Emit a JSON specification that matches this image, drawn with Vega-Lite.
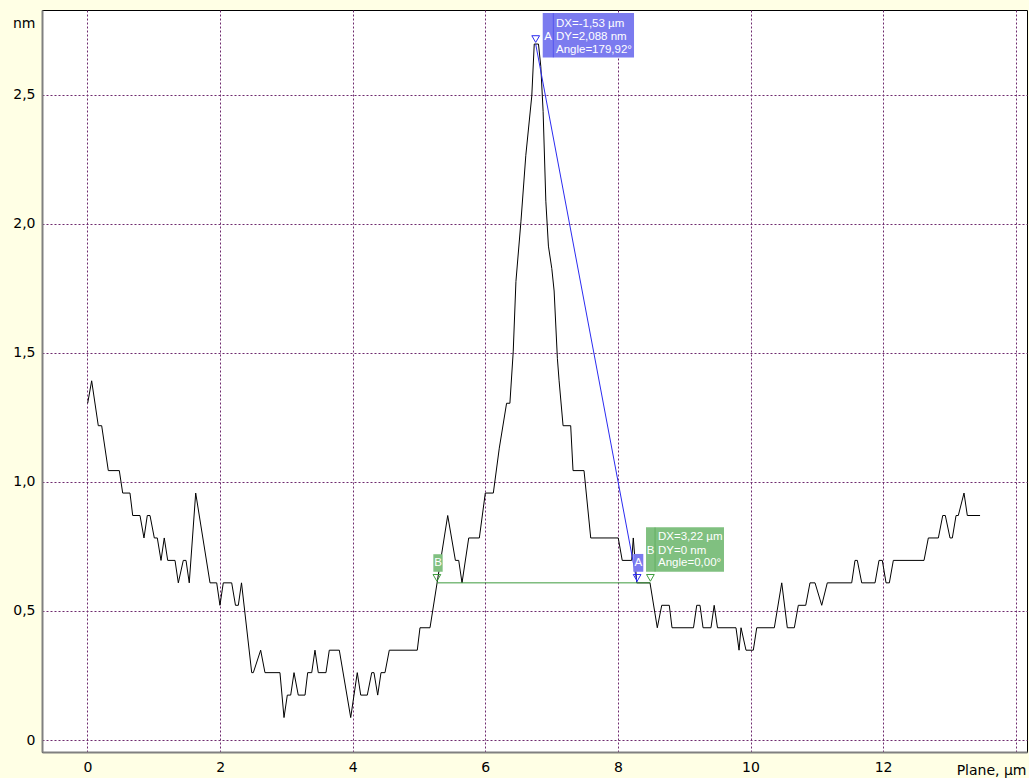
{
  "$schema": "https://vega.github.io/schema/vega-lite/v6.json",
  "width": 985,
  "height": 742,
  "autosize": {"type": "none"},
  "padding": {"left": 42, "top": 10, "right": 2, "bottom": 26},
  "background": "#FFFFE5",
  "config": {
    "view": {"fill": "#ffffff", "stroke": "#000000", "strokeWidth": 1},
    "font": "DejaVu Sans",
    "axis": {
      "grid": true,
      "ticks": false,
      "gridColor": "#6e2a6e",
      "gridDash": [2, 2],
      "gridWidth": 1,
      "gridOpacity": 1,
      "domainColor": "#808080",
      "domainWidth": 2,
      "labelFont": "DejaVu Sans",
      "labelFontSize": 14,
      "labelColor": "#000000",
      "titleFont": "DejaVu Sans",
      "titleFontSize": 14,
      "titleFontWeight": "normal",
      "titleColor": "#000000"
    }
  },
  "datasets": {
    "profile": [
      {"x":0.003,"y":1.305},{"x":0.063,"y":1.392},{"x":0.163,"y":1.218},{"x":0.214,"y":1.218},
      {"x":0.314,"y":1.044},{"x":0.480,"y":1.044},{"x":0.531,"y":0.957},{"x":0.641,"y":0.957},
      {"x":0.682,"y":0.870},{"x":0.792,"y":0.870},{"x":0.852,"y":0.783},{"x":0.902,"y":0.870},
      {"x":0.943,"y":0.870},{"x":1.008,"y":0.783},{"x":1.053,"y":0.783},{"x":1.109,"y":0.696},
      {"x":1.158,"y":0.783},{"x":1.210,"y":0.696},{"x":1.320,"y":0.696},{"x":1.370,"y":0.609},
      {"x":1.445,"y":0.696},{"x":1.486,"y":0.696},{"x":1.535,"y":0.609},{"x":1.632,"y":0.957},
      {"x":1.848,"y":0.609},{"x":1.949,"y":0.609},{"x":1.998,"y":0.522},{"x":2.048,"y":0.609},
      {"x":2.175,"y":0.609},{"x":2.232,"y":0.522},{"x":2.275,"y":0.522},{"x":2.323,"y":0.609},
      {"x":2.477,"y":0.261},{"x":2.501,"y":0.261},{"x":2.612,"y":0.348},{"x":2.677,"y":0.261},
      {"x":2.903,"y":0.261},{"x":2.964,"y":0.087},{"x":3.014,"y":0.174},{"x":3.065,"y":0.174},
      {"x":3.115,"y":0.261},{"x":3.179,"y":0.174},{"x":3.281,"y":0.174},{"x":3.321,"y":0.261},
      {"x":3.382,"y":0.261},{"x":3.431,"y":0.348},{"x":3.481,"y":0.261},{"x":3.597,"y":0.261},
      {"x":3.647,"y":0.348},{"x":3.798,"y":0.348},{"x":3.970,"y":0.087},{"x":4.069,"y":0.261},
      {"x":4.121,"y":0.174},{"x":4.220,"y":0.174},{"x":4.287,"y":0.261},{"x":4.321,"y":0.261},
      {"x":4.377,"y":0.174},{"x":4.427,"y":0.261},{"x":4.487,"y":0.261},{"x":4.552,"y":0.348},
      {"x":4.974,"y":0.348},{"x":5.015,"y":0.435},{"x":5.166,"y":0.435},{"x":5.433,"y":0.870},
      {"x":5.549,"y":0.696},{"x":5.599,"y":0.696},{"x":5.649,"y":0.609},{"x":5.750,"y":0.783},
      {"x":5.910,"y":0.783},{"x":6.000,"y":0.957},{"x":6.121,"y":0.957},{"x":6.211,"y":1.131},
      {"x":6.321,"y":1.305},{"x":6.371,"y":1.305},{"x":6.421,"y":1.504},{"x":6.462,"y":1.777},
      {"x":6.537,"y":2.008},{"x":6.611,"y":2.266},{"x":6.701,"y":2.496},{"x":6.738,"y":2.697},
      {"x":6.802,"y":2.697},{"x":6.837,"y":2.610},{"x":6.872,"y":2.436},{"x":6.913,"y":2.088},
      {"x":6.952,"y":1.914},{"x":7.003,"y":1.827},{"x":7.038,"y":1.740},{"x":7.087,"y":1.479},
      {"x":7.113,"y":1.392},{"x":7.173,"y":1.218},{"x":7.288,"y":1.218},{"x":7.323,"y":1.044},
      {"x":7.489,"y":1.044},{"x":7.590,"y":0.783},{"x":8.005,"y":0.783},{"x":8.065,"y":0.696},
      {"x":8.208,"y":0.696},{"x":8.232,"y":0.783},{"x":8.284,"y":0.609},{"x":8.484,"y":0.609},
      {"x":8.594,"y":0.435},{"x":8.661,"y":0.522},{"x":8.775,"y":0.522},{"x":8.816,"y":0.435},
      {"x":9.140,"y":0.435},{"x":9.189,"y":0.522},{"x":9.238,"y":0.522},{"x":9.284,"y":0.435},
      {"x":9.404,"y":0.435},{"x":9.452,"y":0.522},{"x":9.502,"y":0.435},{"x":9.781,"y":0.435},
      {"x":9.827,"y":0.348},{"x":9.857,"y":0.435},{"x":9.932,"y":0.348},{"x":10.042,"y":0.348},
      {"x":10.094,"y":0.435},{"x":10.359,"y":0.435},{"x":10.471,"y":0.609},{"x":10.555,"y":0.435},
      {"x":10.661,"y":0.435},{"x":10.721,"y":0.522},{"x":10.833,"y":0.522},{"x":10.897,"y":0.609},
      {"x":10.973,"y":0.609},{"x":11.074,"y":0.522},{"x":11.158,"y":0.609},{"x":11.526,"y":0.609},
      {"x":11.576,"y":0.696},{"x":11.611,"y":0.696},{"x":11.677,"y":0.609},{"x":11.878,"y":0.609},
      {"x":11.938,"y":0.696},{"x":11.988,"y":0.696},{"x":12.044,"y":0.609},{"x":12.094,"y":0.609},
      {"x":12.154,"y":0.696},{"x":12.617,"y":0.696},{"x":12.682,"y":0.783},{"x":12.833,"y":0.783},
      {"x":12.899,"y":0.870},{"x":12.938,"y":0.870},{"x":13.009,"y":0.783},{"x":13.044,"y":0.783},
      {"x":13.100,"y":0.870},{"x":13.134,"y":0.870},{"x":13.220,"y":0.957},{"x":13.270,"y":0.870},
      {"x":13.462,"y":0.870}
    ],
    "meas": [
      {"g":"A","x":6.76,"y":2.697},{"g":"A","x":8.29,"y":0.609},
      {"g":"B","x":5.27,"y":0.609},{"g":"B","x":8.49,"y":0.609}
    ],
    "boxes": [
      {"g":"A","x1":6.866,"x2":8.243,"y1":2.645,"y2":2.817,"xd":7.026,"lx":6.946,"ly":2.726},
      {"g":"B","x1":8.424,"x2":9.600,"y1":0.652,"y2":0.824,"xd":8.560,"lx":8.492,"ly":0.734}
    ],
    "tags": [
      {"g":"A","x1":8.232,"x2":8.383,"y1":0.652,"y2":0.721,"lx":8.308,"ly":0.686},
      {"g":"B","x1":5.216,"x2":5.357,"y1":0.652,"y2":0.720,"lx":5.287,"ly":0.686}
    ],
    "texts": [
      {"x":7.066,"y":2.775,"t":"DX=-1,53 µm"},
      {"x":7.066,"y":2.726,"t":"DY=2,088 nm"},
      {"x":7.066,"y":2.674,"t":"Angle=179,92°"},
      {"x":8.605,"y":0.786,"t":"DX=3,22 µm"},
      {"x":8.605,"y":0.734,"t":"DY=0 nm"},
      {"x":8.605,"y":0.685,"t":"Angle=0,00°"}
    ]
  },
  "layer": [
    {
      "data": {"name": "profile"},
      "mark": {"type": "line", "stroke": "#000000", "strokeWidth": 1},
      "encoding": {
        "x": {
          "field": "x", "type": "quantitative",
          "scale": {"domain": [-0.686, 14.17], "nice": false, "zero": false},
          "axis": {
            "values": [0, 2, 4, 6, 8, 10, 12, 14],
            "format": "d",
            "labelExpr": "datum.value == 14 ? '' : datum.label",
            "labelPadding": 8,
            "title": "Plane, µm",
            "titleX": 984,
            "titleY": 22,
            "titleAlign": "right",
            "titleBaseline": "alphabetic"
          }
        },
        "y": {
          "field": "y", "type": "quantitative",
          "scale": {"domain": [-0.0465, 2.829], "nice": false, "zero": false},
          "axis": {
            "values": [0, 0.5, 1, 1.5, 2, 2.5],
            "labelExpr": "datum.value == 0 ? '0' : replace(format(datum.value, '.1f'), '.', ',')",
            "labelPadding": 7,
            "title": "nm",
            "titleAngle": 0,
            "titleX": -7,
            "titleY": 17,
            "titleAlign": "right",
            "titleBaseline": "alphabetic"
          }
        }
      }
    },
    {
      "data": {"name": "meas"},
      "mark": {"type": "line", "strokeWidth": 1},
      "encoding": {
        "x": {"field": "x", "type": "quantitative"},
        "y": {"field": "y", "type": "quantitative"},
        "detail": {"field": "g"},
        "stroke": {"field": "g", "type": "nominal", "scale": {"domain": ["A", "B"], "range": ["#2b2bf0", "#3d9b3d"]}, "legend": null}
      }
    },
    {
      "data": {"name": "meas"},
      "mark": {"type": "point", "shape": "triangle-down", "filled": false, "size": 60, "yOffset": -5, "strokeWidth": 1, "opacity": 1},
      "encoding": {
        "x": {"field": "x", "type": "quantitative"},
        "y": {"field": "y", "type": "quantitative"},
        "stroke": {"field": "g", "type": "nominal", "legend": null}
      }
    },
    {
      "data": {"name": "boxes"},
      "mark": {"type": "rect"},
      "encoding": {
        "x": {"field": "x1", "type": "quantitative"},
        "x2": {"field": "x2"},
        "y": {"field": "y1", "type": "quantitative"},
        "y2": {"field": "y2"},
        "fill": {"field": "g", "type": "nominal", "scale": {"domain": ["A", "B"], "range": ["#7b7bef", "#80c080"]}, "legend": null}
      }
    },
    {
      "data": {"name": "tags"},
      "mark": {"type": "rect"},
      "encoding": {
        "x": {"field": "x1", "type": "quantitative"},
        "x2": {"field": "x2"},
        "y": {"field": "y1", "type": "quantitative"},
        "y2": {"field": "y2"},
        "fill": {"field": "g", "type": "nominal", "legend": null}
      }
    },
    {
      "data": {"name": "boxes"},
      "mark": {"type": "rule", "strokeWidth": 1, "strokeOpacity": 0.45},
      "encoding": {
        "x": {"field": "xd", "type": "quantitative"},
        "y": {"field": "y1", "type": "quantitative"},
        "y2": {"field": "y2"},
        "stroke": {"field": "g", "type": "nominal", "legend": null}
      }
    },
    {
      "data": {"name": "boxes"},
      "mark": {"type": "text", "font": "Liberation Sans", "fontSize": 11.5, "fill": "#ffffff", "align": "center", "baseline": "middle"},
      "encoding": {
        "x": {"field": "lx", "type": "quantitative"},
        "y": {"field": "ly", "type": "quantitative"},
        "text": {"field": "g"}
      }
    },
    {
      "data": {"name": "tags"},
      "mark": {"type": "text", "font": "Liberation Sans", "fontSize": 11.5, "fill": "#ffffff", "align": "center", "baseline": "middle"},
      "encoding": {
        "x": {"field": "lx", "type": "quantitative"},
        "y": {"field": "ly", "type": "quantitative"},
        "text": {"field": "g"}
      }
    },
    {
      "data": {"name": "texts"},
      "mark": {"type": "text", "font": "Liberation Sans", "fontSize": 11.5, "fill": "#ffffff", "align": "left", "baseline": "middle"},
      "encoding": {
        "x": {"field": "x", "type": "quantitative"},
        "y": {"field": "y", "type": "quantitative"},
        "text": {"field": "t"}
      }
    }
  ]
}
